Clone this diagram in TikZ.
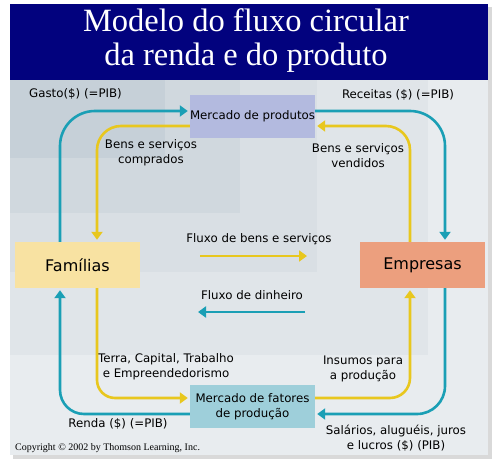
\documentclass[tikz,border=0pt]{standalone}
\usepackage{fontspec}
\setmainfont{DejaVu Sans}
\newfontfamily\titlefont{Liberation Serif}
\usetikzlibrary{arrows.meta}

\definecolor{titleblue}{HTML}{02027E}
\definecolor{bgzero}{HTML}{E8ECEF}
\definecolor{bgone}{HTML}{E0E5E9}
\definecolor{bgtwo}{HTML}{D9DFE4}
\definecolor{bgthree}{HTML}{D0D8DE}
\definecolor{bgfour}{HTML}{C6D0D8}
\definecolor{moneyteal}{HTML}{1A9FB5}
\definecolor{goodsyellow}{HTML}{E8C71E}
\definecolor{prodfill}{HTML}{B3BADF}
\definecolor{famfill}{HTML}{F8E2A2}
\definecolor{empfill}{HTML}{EC9F7E}
\definecolor{fatfill}{HTML}{9ECFDA}

\begin{document}
\begin{tikzpicture}[x=1pt, y=-1pt, font=\fontsize{11.8}{15}\selectfont]
		%define styles
		\tikzset{
			market/.style={rectangle, minimum width=125pt, minimum height=43pt, inner sep=0pt, align=center, text=black},
			agent/.style={rectangle, minimum width=125pt, minimum height=46pt, inner sep=0pt, font=\fontsize{16}{18}\selectfont},
			lbl/.style={align=center, inner sep=0pt},
			money/.style={line width=2.6pt, draw=moneyteal, -{Triangle[width=11pt,length=8pt]}, shorten >=2pt},
			goods/.style={line width=2.6pt, draw=goodsyellow, -{Triangle[width=11pt,length=8pt]}, shorten >=2pt},
			}
		\useasboundingbox (0,0) rectangle (500,465);
		%background
		\fill[gray!30] (13,7) rectangle (492,459);
		\fill[titleblue] (10,4) rectangle (488,80);
		\fill[bgzero] (10,80) rectangle (488,455);
		\fill[bgone] (10,80) rectangle (428,355);
		\fill[bgtwo] (10,80) rectangle (317,272);
		\fill[bgthree] (10,80) rectangle (240,213);
		\fill[bgfour] (10,80) rectangle (165,158);
		\node[text=white, align=center, font=\titlefont\fontsize{32.5}{34}\selectfont] (title) at (246,41) {Modelo do fluxo circular\\da renda e do produto};
		%define nodes
		\node[market, fill=prodfill] (prod) at (252.5,116.5) {Mercado de produtos};
		\node[agent, fill=famfill] (fam) at (77.5,265) {Famílias};
		\node[agent, fill=empfill] (emp) at (422.5,265) {Empresas};
		\node[market, fill=fatfill] (fat) at (252.5,406.5) {Mercado de fatores\\de produção};
		%define labels
		\node[lbl, anchor=west] (gasto) at (29,94) {Gasto(\$) (=PIB)};
		\node[lbl] (receitas) at (398,95) {Receitas (\$) (=PIB)};
		\node[lbl] (comprados) at (151,153) {Bens e serviços\\comprados};
		\node[lbl] (vendidos) at (358,156) {Bens e serviços\\vendidos};
		\node[lbl] (fluxobens) at (259,239) {Fluxo de bens e serviços};
		\node[lbl] (fluxodin) at (252,295) {Fluxo de dinheiro};
		\node[lbl] (terra) at (166,367) {Terra, Capital, Trabalho\\e Empreendedorismo};
		\node[lbl] (insumos) at (363,369) {Insumos para\\a produção};
		\node[lbl] (renda) at (118,424) {Renda (\$) (=PIB)};
		\node[lbl] (salarios) at (396,438) {Salários, aluguéis, juros\\e lucros (\$) (PIB)};
		\node[lbl, anchor=west, font=\titlefont\fontsize{10}{11}\selectfont] (copy) at (15,448) {Copyright © 2002 by Thomson Learning, Inc.};
		\coordinate (bensA) at (200,256);
		\coordinate (bensB) at (307,256);
		\coordinate (dinA) at (305,312);
		\coordinate (dinB) at (198,312);
		%define arrows
		\draw[money, rounded corners=35pt] ([xshift=-17.5pt]fam.north) |- ([yshift=5.5pt]prod.west);
		\draw[goods, rounded corners=24pt] ([yshift=-9.5pt]prod.west) -| ([xshift=19.5pt]fam.north);
		\draw[money, rounded corners=35pt] ([yshift=5.5pt]prod.east) -| ([xshift=22.5pt]emp.north);
		\draw[goods, rounded corners=24pt] ([xshift=-12.5pt]emp.north) |- ([yshift=-9.5pt]prod.east);
		\draw[goods, rounded corners=18pt] ([xshift=19.5pt]fam.south) |- ([yshift=8.5pt]fat.west);
		\draw[money, rounded corners=24pt] ([yshift=-7.5pt]fat.west) -| ([xshift=-17.5pt]fam.south);
		\draw[goods, rounded corners=20pt] ([yshift=8.5pt]fat.east) -| ([xshift=-12.5pt]emp.south);
		\draw[money, rounded corners=28pt] ([xshift=22.5pt]emp.south) |- ([yshift=-7.5pt]fat.east);
		\draw[goods, shorten >=0pt] (bensA) -- (bensB);
		\draw[money, shorten >=0pt] (dinA) -- (dinB);
\end{tikzpicture}
\end{document}
